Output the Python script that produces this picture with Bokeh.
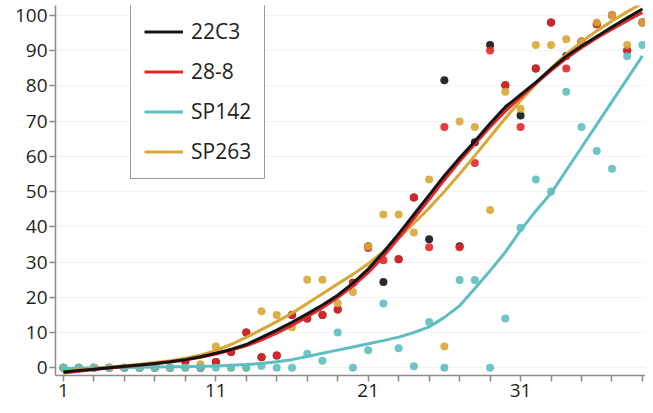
from bokeh.plotting import figure
from bokeh.models import FixedTicker, Legend, LegendItem, Range1d
from bokeh.embed import file_html
from bokeh.resources import INLINE

# ---- data ----
case_x = list(range(1, 40))
pts_22C3 = [0, 0, 0, 0, 0, 0, 0, 0, 1.8, 0, 1.6, 4.5, 10, 3, 3.5, 15, 14, 15, 16.5, 24.1,
            34.5, 24.3, 30.8, 48.3, 36.5, 81.6, 34.5, 64, 91.6, 80.2, 71.6, 84.9, 98, 88.5,
            92.6, 97.5, 100, 90, 98]
pts_28_8 = [0, 0, 0, 0, 0, 0, 0, 0, 1.8, 0, 1.6, 4.5, 10, 3, 3.5, 15, 14, 15, 16.5, 24,
            34, 30.5, 30.8, 48.3, 34.2, 68.3, 34.2, 58.1, 90, 80.2, 68.3, 84.9, 98, 84.9,
            92.6, 97.5, 100, 90, 98]
pts_SP142 = [0, 0, 0, 0, 0, 0, 0, 0, 0, 0, 0, 0, 0, 0.5, 0, 0, 4, 2, 10, 0,
             5, 18.2, 5.5, 0.4, 13, 0, 24.9, 24.9, 0, 14, 39.7, 53.4, 50, 78.3,
             68.3, 61.5, 56.5, 88.4, 91.6]
pts_SP263 = [0, 0, 0, 0, 0, 0, 0, 0, 0, 1, 6, 0, 0, 16, 15, 11.5, 25, 25, 18.3, 21.5,
             34.5, 43.5, 43.5, 38.4, 53.4, 6, 69.9, 68.3, 44.8, 78.3, 73.5, 91.6, 91.6, 93.2,
             92.6, 98, 100, 91.6, 98]

fit_x = list(range(1, 40))
fit_22C3 = [-1.2, -0.8, -0.4, 0, 0.4, 0.8, 1.2, 1.7, 2.3, 3.1, 4.1, 5.2, 6.6, 8.6, 10.7,
            12.9, 15.3, 17.8, 20.6, 24, 28, 32.8, 38, 43.5, 49, 54.5, 59.5, 64.3, 69.3,
            74, 77.5, 81, 84.8, 88.4, 91.3, 94, 96.7, 99.3, 101.8]
fit_28_8 = [-1.5, -1, -0.5, -0.1, 0.3, 0.7, 1.1, 1.6, 2.2, 3, 3.9, 5, 6.2, 7.9, 9.8,
            12, 14.5, 17, 19.9, 23.2, 27, 31.6, 36.8, 42.3, 47.8, 53.3, 58.6, 63.5, 68.3,
            72.8, 76.8, 80.6, 84.3, 87.8, 90.8, 93.6, 96.1, 98.5, 100.8]
fit_SP142 = [-0.3, -0.1, 0, 0.05, 0.1, 0.15, 0.2, 0.25, 0.3, 0.4, 0.5, 0.7, 0.9, 1.2, 1.7,
             2.3, 3.2, 4.1, 5, 5.9, 6.8, 7.7, 8.7, 10, 11.6, 14.3, 17.6, 22.5, 27.5,
             32.8, 39, 44.5, 49.5, 56, 62.5, 69, 75.5, 82, 88.5]
fit_SP263 = [-1, -0.6, -0.2, 0.2, 0.6, 1, 1.5, 2, 2.7, 3.6, 4.9, 6.6, 8.6, 10.8, 13.1,
             15.5, 18.2, 21, 23.8, 26.5, 29.5, 33, 36.8, 41, 45.3, 50, 55, 60.2, 65.5,
             70.8, 75.8, 80.5, 85, 89, 92.5, 95.6, 98.4, 101, 103.5]

series_names = ["22C3", "28-8", "SP142", "SP263"]
x_ticks = list(range(1, 40, 2))
x_labeled = [1, 11, 21, 31]
y_ticks = list(range(0, 101, 10))

# ---- styles ----
colors = {"22C3": "#141414", "28-8": "#e3262a", "SP142": "#5fbfc0", "SP263": "#d8a735"}
FONT = "Open Sans"
TXT = "#231f20"

p = figure(width=645, height=405, output_backend="svg", toolbar_location=None,
           x_range=Range1d(0.48, 39.2), y_range=Range1d(-2.2, 102.8),
           min_border_left=55, min_border_right=0, min_border_top=5, min_border_bottom=30)
p.outline_line_color = None
p.background_fill_color = "white"
p.xgrid.grid_line_color = None
p.ygrid.grid_line_color = "#f3f3f3"
p.ygrid.ticker = FixedTicker(ticks=y_ticks)

p.xaxis.ticker = FixedTicker(ticks=x_ticks)
p.xaxis.major_label_overrides = {t: (str(t) if t in x_labeled else "") for t in x_ticks}
p.yaxis.ticker = FixedTicker(ticks=y_ticks)
for ax in (p.xaxis, p.yaxis):
    ax.axis_line_color = "#8c8c8c"
    ax.axis_line_width = 1.5
    ax.major_tick_line_color = "#8c8c8c"
    ax.major_tick_line_width = 1.5
    ax.major_tick_out = 6
    ax.major_tick_in = 0
    ax.minor_tick_line_color = None
    ax.major_label_text_font = FONT
    ax.major_label_text_font_size = "19px"
    ax.major_label_text_color = TXT
    ax.major_label_standoff = 2

pts = {"22C3": pts_22C3, "28-8": pts_28_8, "SP142": pts_SP142, "SP263": pts_SP263}
fits = {"22C3": fit_22C3, "28-8": fit_28_8, "SP142": fit_SP142, "SP263": fit_SP263}

for name in ["22C3", "28-8", "SP263", "SP142"]:
    p.scatter(case_x, pts[name], size=8, fill_color=colors[name], line_color=None, fill_alpha=0.9)

line_r = {}
for name in ["SP142", "SP263", "28-8", "22C3"]:
    line_r[name] = p.line(fit_x, fits[name], line_color=colors[name], line_width=3)

legend = Legend(items=[LegendItem(label=n, renderers=[line_r[n]]) for n in series_names],
                location=(75, 196))
legend.border_line_color = "#333333"
legend.border_line_width = 1.5
legend.label_text_font = FONT
legend.label_text_font_size = "21px"
legend.label_text_color = TXT
legend.glyph_width = 39
legend.glyph_height = 25
legend.label_height = 25
legend.spacing = 12
legend.padding = 13
legend.label_standoff = 8
legend.margin = 0
legend.background_fill_alpha = 1
p.add_layout(legend)

open("out.html", "w").write(file_html(p, INLINE))
